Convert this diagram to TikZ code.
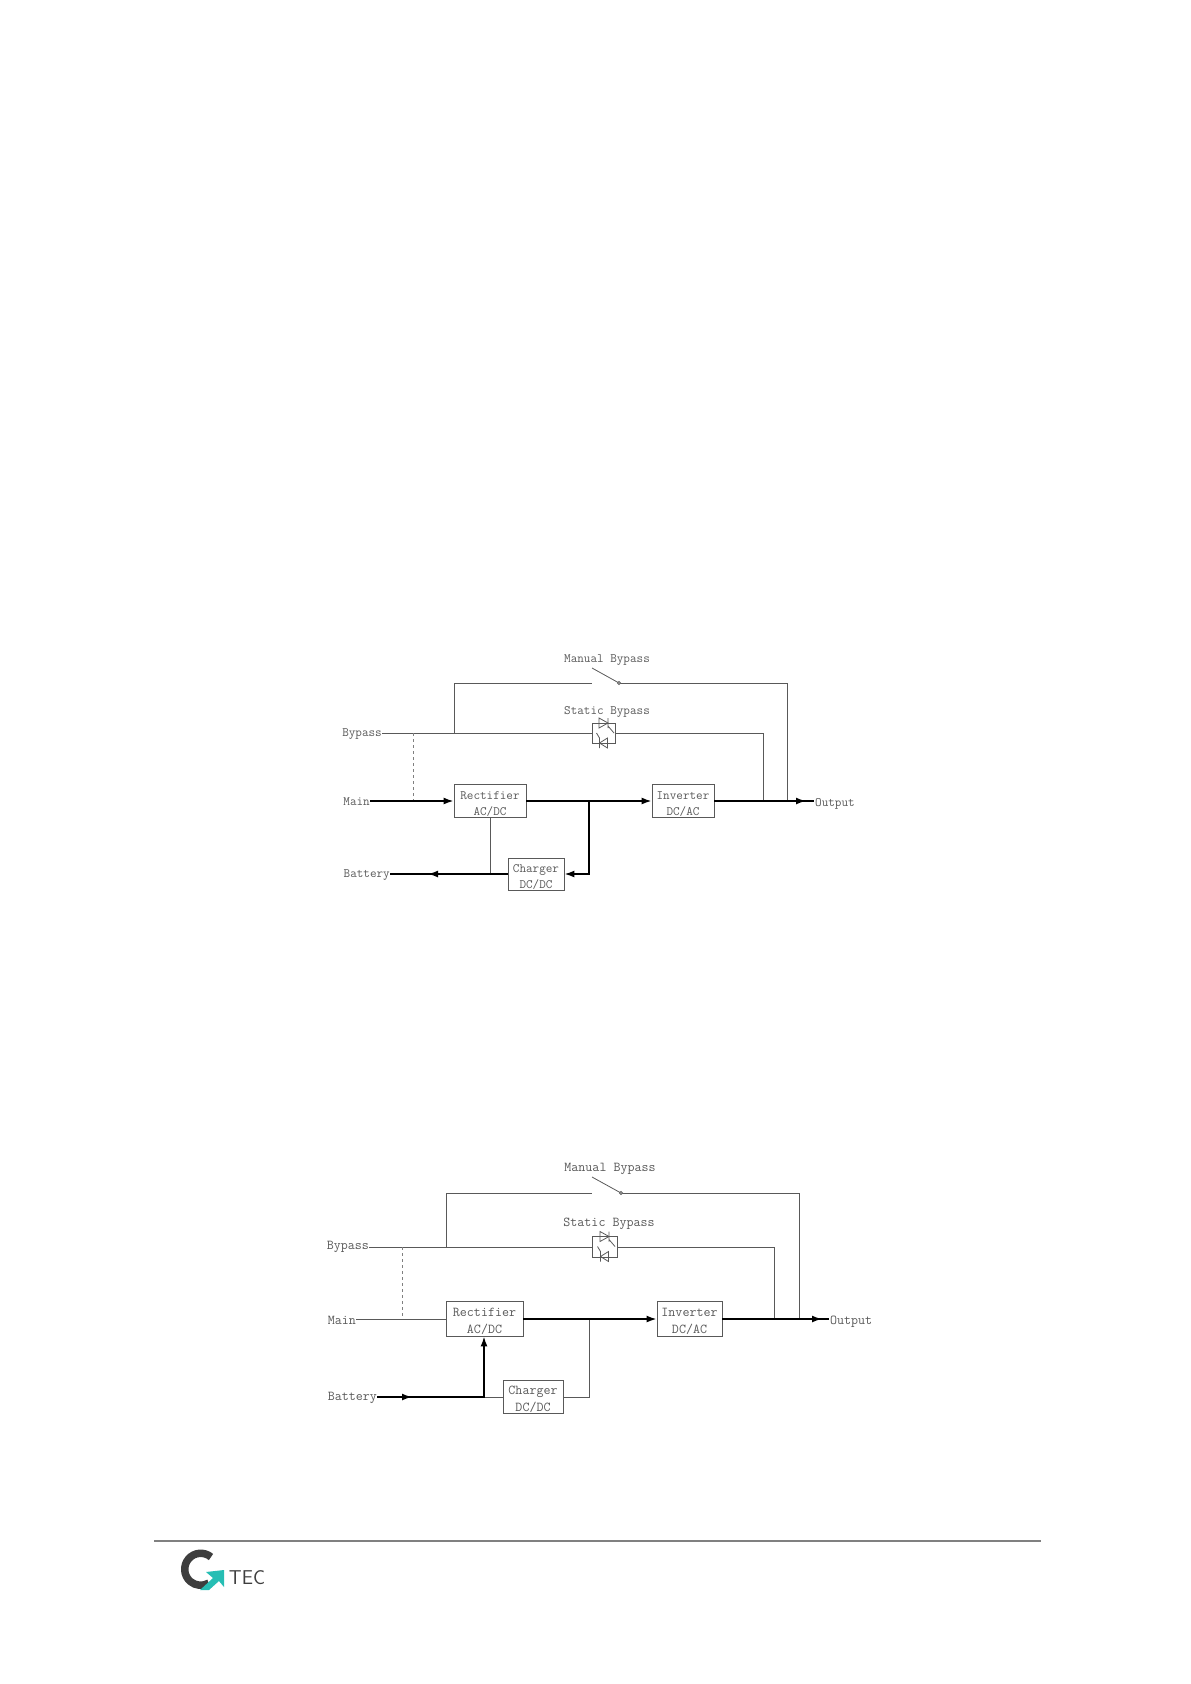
\documentclass[tikz,border=0pt]{standalone}
\usetikzlibrary{calc,arrows.meta}
\definecolor{inkgray}{gray}{0.35}
\definecolor{gteal}{RGB}{38,190,180}
\definecolor{gdark}{RGB}{62,62,62}
\newcommand{\lowr}{\rule{0pt}{15pt}}
\tikzset{
    head/.tip={Latex[length=10pt,width=7pt]},
    pics/scr/.style={code={
        \draw[wire] (-4.5,-15) -- (4.5,-10) -- (-4.5,-5) -- cycle;
        \draw[wire] (4.5,-15) -- (4.5,-5) (4.5,-7) -- (10.5,0);
        \draw[wire] (4,5) -- (-4,10) -- (4,15) -- cycle;
        \draw[wire] (-4,5) -- (-4,15) (-4,5) -- (-7,0);
    }}
}
\begin{document}
\begin{tikzpicture}[x=1pt,y=-1pt,
    wire/.style={draw=inkgray,line width=0.8pt},
    power/.style={draw=black,line width=1.7pt},
    link/.style={draw=gray,line width=0.9pt,dashed},
    box/.style={rectangle,draw=inkgray,line width=0.8pt,inner sep=0pt,align=center,
        font=\ttfamily\fontsize{12.8}{16}\selectfont,text=inkgray},
    boxb/.style={box,font=\ttfamily\fontsize{13.6}{17}\selectfont},
    lbl/.style={inner sep=0pt,font=\ttfamily\fontsize{12.8}{14}\selectfont,text=inkgray},
    lblb/.style={lbl,font=\ttfamily\fontsize{13.6}{15}\selectfont}
]
\useasboundingbox (0,0) rectangle (1191,1684);

% upper diagram
\node[lbl] (M1)  at (607,660) {Manual Bypass};
\node[lbl] (S1)  at (607,712) {Static Bypass};
\node[lbl,anchor=east] (By1) at (382,734) {Bypass};
\node[lbl,anchor=east] (Ma1) at (370,802) {Main};
\node[lbl,anchor=east] (Ba1) at (390,875) {Battery};
\node[lbl,anchor=west] (Ou1) at (815,804) {Output};

\node[box,minimum width=72pt,minimum height=33pt] (Re1) at (490,800.5) {\lowr Rectifier\\AC/DC};
\node[box,minimum width=62pt,minimum height=33pt] (In1) at (683,800.5) {\lowr Inverter\\DC/AC};
\node[box,minimum width=56pt,minimum height=30pt] (Ch1) at (536,874) {\lowr Charger\\DC/DC};
\node[box,minimum width=23pt,minimum height=20pt] (Sc1) at (603.5,733) {};
\pic at (Sc1.center) {scr};

\coordinate (T1a) at (454,683);
\coordinate (B1a) at (454,733);
\coordinate (Sw1a) at (592,683);
\coordinate (Sw1b) at (592,668);
\coordinate (Sw1c) at (619,683);
\coordinate (T1b) at (787,683);
\coordinate (O1b) at (787,801);
\coordinate (B1b) at (763,733);
\coordinate (O1a) at (763,801);
\coordinate (D1a) at (413,733);
\coordinate (D1b) at (413,801);
\coordinate (O1t) at (806,801);
\coordinate (O1e) at (814,801);
\coordinate (J1a) at (589,801);
\coordinate (J1b) at (589,874);
\coordinate (Ba1t) at (428,874);
\coordinate (R1a) at (490,874);

\draw[wire] (By1.east |- B1a) -- (Sc1.west);
\draw[wire] (Sc1.east) -- (B1b) -- (O1a);
\draw[wire] (B1a) -- (T1a) -- (Sw1a);
\draw[wire] (Sw1b) -- (Sw1c);
\draw[wire] (Sw1c) -- (T1b) -- (O1b);
\draw[wire,fill=white] (Sw1c) circle (1.5);
\draw[link] (D1a) -- (D1b);
\draw[wire] (Re1.south -| R1a) -- (R1a);
\draw[power,-head] (Ma1.east |- D1b) -- (Re1.west |- D1b);
\draw[power,-head] (Re1.east |- J1a) -- (In1.west |- J1a);
\draw[power] (In1.east |- J1a) -- (O1e);
\draw[power,-head] (O1a) -- (O1t);
\draw[power,-head] (J1a) -- (J1b) -- (Ch1.east);
\draw[power] (Ch1.west) -- (Ba1.east |- Ba1t);
\draw[power,-head] (Ch1.west) -- (Ba1t);

% lower diagram
\node[lblb] (M2)  at (610,1169) {Manual Bypass};
\node[lblb] (S2)  at (609,1224) {Static Bypass};
\node[lblb,anchor=east] (By2) at (369,1247) {Bypass};
\node[lblb,anchor=east] (Ma2) at (356,1320) {Main};
\node[lblb,anchor=east] (Ba2) at (377,1398) {Battery};
\node[lblb,anchor=west] (Ou2) at (830,1322) {Output};

\node[boxb,minimum width=77pt,minimum height=35pt] (Re2) at (484.5,1318.5) {\lowr Rectifier\\AC/DC};
\node[boxb,minimum width=65pt,minimum height=35pt] (In2) at (689.5,1318.5) {\lowr Inverter\\DC/AC};
\node[boxb,minimum width=60pt,minimum height=33pt] (Ch2) at (533,1396.5) {\lowr Charger\\DC/DC};
\node[boxb,minimum width=25pt,minimum height=21pt] (Sc2) at (604.5,1246.5) {};
\pic at (Sc2.center) {scr};

\coordinate (T2a) at (446,1193);
\coordinate (B2a) at (446,1247);
\coordinate (Sw2a) at (592,1193);
\coordinate (Sw2b) at (592,1177);
\coordinate (Sw2c) at (621,1193);
\coordinate (T2b) at (799,1193);
\coordinate (O2b) at (799,1319);
\coordinate (B2b) at (774,1247);
\coordinate (O2a) at (774,1319);
\coordinate (D2a) at (402,1247);
\coordinate (D2b) at (402,1319);
\coordinate (O2t) at (822,1319);
\coordinate (O2e) at (829,1319);
\coordinate (J2a) at (589,1319);
\coordinate (J2b) at (589,1397);
\coordinate (Ba2t) at (412,1397);
\coordinate (R2a) at (484,1397);

\draw[wire] (By2.east |- B2a) -- (Sc2.west |- B2a);
\draw[wire] (Sc2.east |- B2a) -- (B2b) -- (O2a);
\draw[wire] (B2a) -- (T2a) -- (Sw2a);
\draw[wire] (Sw2b) -- (Sw2c);
\draw[wire] (Sw2c) -- (T2b) -- (O2b);
\draw[wire,fill=white] (Sw2c) circle (1.5);
\draw[link] (D2a) -- (D2b);
\draw[wire] (Ma2.east |- D2b) -- (Re2.west |- D2b);
\draw[wire] (J2a) -- (J2b) -- (Ch2.east |- J2b);
\draw[wire] (Ch2.west |- J2b) -- (R2a);
\draw[power,-head] (Re2.east |- J2a) -- (In2.west |- J2a);
\draw[power] (In2.east |- J2a) -- (O2e);
\draw[power,-head] (O2a) -- (O2t);
\draw[power,-head] (Ba2.east |- Ba2t) -- (Ba2t);
\draw[power,-head] (Ba2.east |- Ba2t) -- (R2a) -- (Re2.south -| R2a);

% footer
\coordinate (F1) at (154,1541);
\coordinate (F2) at (1041,1541);
\draw[draw=gray,line width=1.2pt] (F1) -- (F2);
\draw[gdark,line width=7.5pt] (211,1557) arc (-50:-300:16);
\fill[gteal] (206,1572) -- (224,1570) -- (224,1587) -- (219,1581) -- (209,1590) -- (200,1590) -- (213,1578) -- cycle;
\node[inner sep=0pt,font=\sffamily\fontsize{20}{20}\selectfont,text=gdark] (Lg) at (247,1578) {TEC};
\end{tikzpicture}
\end{document}
